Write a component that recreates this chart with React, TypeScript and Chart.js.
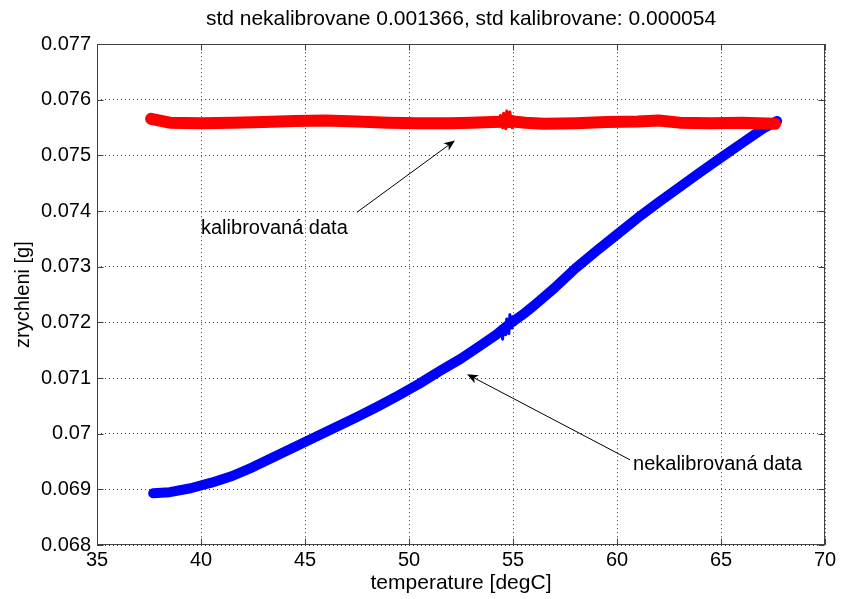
import React, { useEffect, useRef } from "react";
import { Chart, registerables } from "chart.js";

Chart.register(...registerables);

const TITLE = "std nekalibrovane 0.001366, std kalibrovane: 0.000054";
const X_TITLE = "temperature [degC]";
const Y_TITLE = "zrychleni [g]";

// uncalibrated (blue)
const blueX = [37.7, 38.5, 39.5, 40.5, 41.5, 42.5, 43.5, 44.5, 45.5, 46.5, 47.5, 48.5, 49.5, 50.5, 51.5, 52.5, 53.5, 54.2, 54.85, 55.5, 56, 57, 58, 59, 60, 61, 62, 63, 64, 65, 66, 67, 67.7];
const blueY = [0.06893, 0.06895, 0.06902, 0.06912, 0.06924, 0.0694, 0.06958, 0.06976, 0.06994, 0.07012, 0.0703, 0.07049, 0.07069, 0.0709, 0.07113, 0.07135, 0.0716, 0.07178, 0.07198, 0.07215, 0.0723, 0.07262, 0.07297, 0.07328, 0.07358, 0.07388, 0.07416, 0.07443, 0.0747, 0.07496, 0.07522, 0.07548, 0.07562];
// noisy burst of blue samples near 55 degC
const blueNoiseX = [54.3, 54.4, 54.5, 54.55, 54.65, 54.7, 54.8, 54.85, 54.95, 55.0, 55.1, 55.2];
const blueNoiseY = [0.07174, 0.07192, 0.07170, 0.07196, 0.07178, 0.07206, 0.07180, 0.07214, 0.07190, 0.07210, 0.07196, 0.07212];

// calibrated (red)
const redX = [37.6, 38.5, 40, 41.5, 43, 44.5, 46, 47.5, 49, 50.5, 52, 53, 54, 55, 55.6, 56.5, 58, 59.5, 61, 62, 63, 64.5, 66, 67.6];
const redY = [0.07566, 0.07559, 0.07558, 0.07559, 0.0756, 0.07562, 0.07563, 0.07561, 0.07559, 0.07558, 0.07558, 0.07559, 0.0756, 0.07561, 0.07559, 0.07557, 0.07558, 0.0756, 0.07561, 0.07563, 0.07559, 0.07558, 0.07559, 0.07557];
// noisy burst of red samples near 55 degC
const redNoiseX = [54.3, 54.4, 54.5, 54.55, 54.65, 54.7, 54.8, 54.85, 54.95, 55.0, 55.1, 55.2];
const redNoiseY = [0.07560, 0.07572, 0.07550, 0.07576, 0.07548, 0.07580, 0.07552, 0.07578, 0.07550, 0.07570, 0.07554, 0.07566];

// annotations
const noteTexts = ["kalibrovaná data", "nekalibrovaná data"];
const noteTextX = [40.0, 60.77];
const noteTextY = [0.07369, 0.06944];
const arrowTailX = [47.5, 60.63];
const arrowTailY = [0.07398, 0.06953];
const arrowHeadX = [52.21, 52.79];
const arrowHeadY = [0.07527, 0.07107];

const FONT = "'Liberation Sans', Arial, Helvetica, sans-serif";

const overlay = {
  id: "overlay",
  afterDraw(chart: any) {
    const { ctx, chartArea: a, scales } = chart;
    const xs = scales.x;
    const ys = scales.y;
    ctx.save();
    ctx.strokeStyle = "#000";
    ctx.fillStyle = "#000";
    ctx.lineWidth = 1;
    for (let i = 0; i < noteTexts.length; i++) {
      const tx = xs.getPixelForValue(arrowTailX[i]);
      const ty = ys.getPixelForValue(arrowTailY[i]);
      const hx = xs.getPixelForValue(arrowHeadX[i]);
      const hy = ys.getPixelForValue(arrowHeadY[i]);
      const ang = Math.atan2(hy - ty, hx - tx);
      const L = 11, W = 4.5, back = 8;
      const bx = hx - Math.cos(ang) * back;
      const by = hy - Math.sin(ang) * back;
      ctx.beginPath();
      ctx.moveTo(tx, ty);
      ctx.lineTo(bx, by);
      ctx.stroke();
      const px = -Math.sin(ang), py = Math.cos(ang);
      const cx = hx - Math.cos(ang) * L;
      const cy = hy - Math.sin(ang) * L;
      ctx.beginPath();
      ctx.moveTo(hx, hy);
      ctx.lineTo(cx + px * W, cy + py * W);
      ctx.lineTo(bx, by);
      ctx.lineTo(cx - px * W, cy - py * W);
      ctx.closePath();
      ctx.fill();
      ctx.font = `20px ${FONT}`;
      ctx.textAlign = "left";
      ctx.textBaseline = "middle";
      ctx.fillText(noteTexts[i], xs.getPixelForValue(noteTextX[i]), ys.getPixelForValue(noteTextY[i]));
    }
    ctx.strokeStyle = "#404040";
    ctx.lineWidth = 1;
    const l = Math.round(a.left) + 0.5, r = Math.round(a.right) - 0.5;
    const t = Math.round(a.top) + 0.5, b = Math.round(a.bottom) - 0.5;
    ctx.strokeRect(l, t, r - l, b - t);
    const tl = 6;
    ctx.beginPath();
    xs.ticks.forEach((tk: any) => {
      const p = Math.round(xs.getPixelForValue(tk.value)) + 0.5;
      ctx.moveTo(p, b); ctx.lineTo(p, b - tl);
      ctx.moveTo(p, t); ctx.lineTo(p, t + tl);
    });
    ys.ticks.forEach((tk: any) => {
      const p = Math.round(ys.getPixelForValue(tk.value)) + 0.5;
      ctx.moveTo(l, p); ctx.lineTo(l + tl, p);
      ctx.moveTo(r, p); ctx.lineTo(r - tl, p);
    });
    ctx.stroke();
    ctx.restore();
  },
};

function series(xs: number[], ys: number[], color: string, width: number, order: number, label: string) {
  return {
    label,
    data: xs.map((x, i) => ({ x, y: ys[i] })),
    borderColor: color,
    borderWidth: width,
    pointRadius: 0,
    tension: 0,
    borderCapStyle: "round",
    borderJoinStyle: "round",
    order,
  };
}

export default function App() {
  const ref = useRef<HTMLCanvasElement>(null);
  useEffect(() => {
    document.body.style.margin = "0";
    const canvas = ref.current!;
    const gridCfg = { color: "rgba(0,0,0,0.75)", lineWidth: 1, drawTicks: false };
    const chart = new Chart(canvas, {
      type: "line",
      data: {
        datasets: [
          series(redNoiseX, redNoiseY, "#ff0000", 3, 0, "kalibrovaná data (šum)"),
          series(redX, redY, "#ff0000", 12, 1, "kalibrovaná data"),
          series(blueNoiseX, blueNoiseY, "#0000ff", 3, 2, "nekalibrovaná data (šum)"),
          series(blueX, blueY, "#0000ff", 10, 3, "nekalibrovaná data"),
        ],
      },
      options: {
        responsive: false,
        animation: false,
        layout: { padding: { left: 0, right: 20, top: 0, bottom: 0 } },
        plugins: {
          legend: { display: false },
          tooltip: { enabled: false },
          title: {
            display: true,
            text: TITLE,
            color: "#000",
            fullSize: false,
            font: { family: FONT, size: 21, weight: "normal" },
            padding: { top: 7, bottom: 12 },
          },
        },
        scales: {
          x: {
            type: "linear",
            min: 35,
            max: 70,
            grid: gridCfg,
            border: { display: false, dash: [1, 3] },
            ticks: { stepSize: 5, color: "#000", font: { family: FONT, size: 20 }, padding: 3, maxRotation: 0 },
            title: { display: true, text: X_TITLE, color: "#000", font: { family: FONT, size: 21 }, padding: { top: 0, bottom: 3 } },
            afterFit: (s: any) => { s.height = 54; },
          },
          y: {
            type: "linear",
            min: 0.068,
            max: 0.077,
            grid: gridCfg,
            border: { display: false, dash: [1, 3] },
            ticks: {
              stepSize: 0.001,
              color: "#000",
              font: { family: FONT, size: 20 },
              padding: 6,
              callback: (v: any) => Number(Number(v).toFixed(3)).toString(),
            },
            title: { display: true, text: Y_TITLE, color: "#000", font: { family: FONT, size: 20 }, padding: { top: 11, bottom: 0 } },
            afterFit: (s: any) => { s.width = 97; },
          },
        },
      },
      plugins: [overlay],
    } as any);
    return () => chart.destroy();
  }, []);
  return (
    <div style={{ width: 845, height: 599, background: "#fff" }}>
      <canvas ref={ref} width={845} height={599} style={{ display: "block" }} />
    </div>
  );
}
